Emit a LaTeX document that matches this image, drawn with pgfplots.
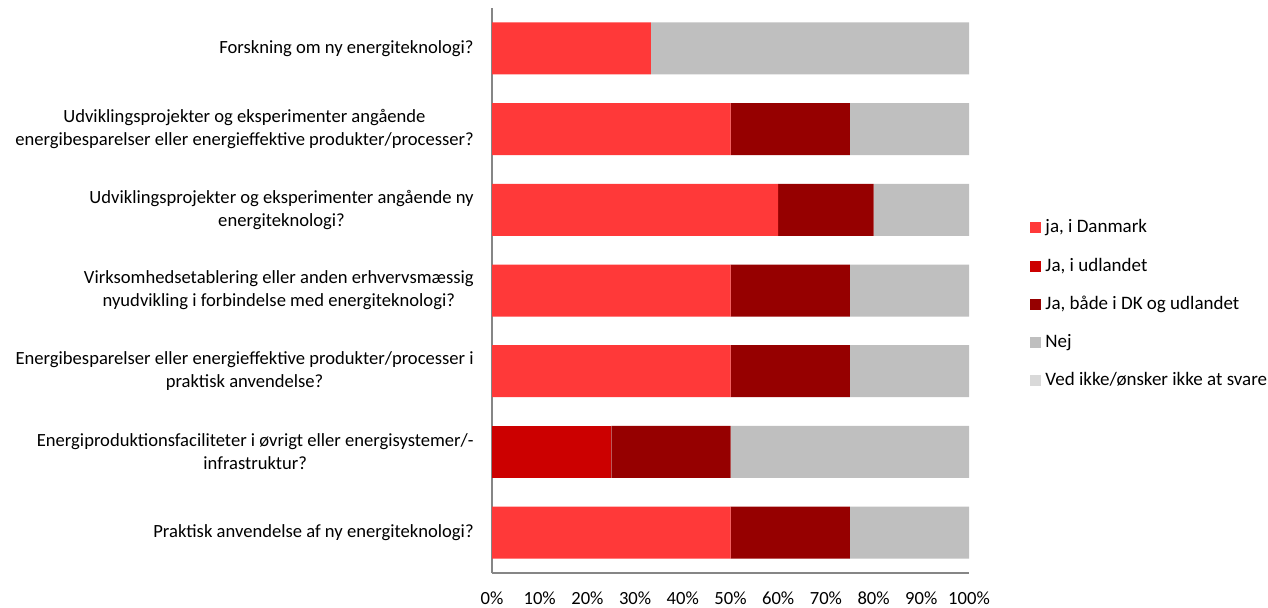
\documentclass[border=0pt]{standalone}
\usepackage{pgfplots}
\pgfplotsset{compat=1.18}
\usepackage{fontspec}
\setmainfont{Carlito}
\definecolor{c1}{HTML}{FF3939}
\definecolor{c2}{HTML}{CC0000}
\definecolor{c3}{HTML}{960000}
\definecolor{c4}{HTML}{BFBFBF}
\definecolor{c5}{HTML}{D9D9D9}
\definecolor{axc}{HTML}{868686}
\begin{document}
\begin{tikzpicture}
\path[use as bounding box] (0,0) rectangle (634pt,303.5pt);
\begin{axis}[
  at={(246pt,17pt)}, anchor=south west,
  scale only axis, width=238.5pt, height=282.5pt,
  xbar stacked, bar width=26pt,
  xmin=0, xmax=100, ymin=-0.5, ymax=6.5,
  axis x line*=bottom, axis y line*=left,
  axis line style={axc, line width=0.8pt, -},
  xtick={0,10,...,100},
  xticklabel={\pgfmathprintnumber{\tick}\%},
  /pgf/number format/assume math mode=true,
  major tick length=0pt,
  ytick={0,...,6},
  yticklabels={
    {Praktisk anvendelse af ny energiteknologi?},
    {Energiproduktionsfaciliteter i øvrigt eller energisystemer/-\\infrastruktur?},
    {Energibesparelser eller energieffektive produkter/processer i\\praktisk anvendelse?},
    {Virksomhedsetablering eller anden erhvervsmæssig\\nyudvikling i forbindelse med energiteknologi?},
    {Udviklingsprojekter og eksperimenter angående ny\\energiteknologi?},
    {Udviklingsprojekter og eksperimenter angående\\energibesparelser eller energieffektive produkter/processer?},
    {Forskning om ny energiteknologi?}},
  yticklabel style={align=center, font=\fontsize{9.3}{11.5}\selectfont, inner sep=0pt, xshift=-9pt},
  xticklabel style={font=\fontsize{9.3}{11}\selectfont, inner sep=0pt, yshift=-9pt},
  legend style={at={(1.128,0.633)}, anchor=north west, draw=none, fill=none,
    font=\fontsize{9.5}{11}\selectfont, row sep=7pt, inner sep=0pt},
  legend cell align=left,
  legend image code/.code={\fill[#1] (0pt,-2.75pt) rectangle (5.5pt,2.75pt);},
  every axis plot/.append style={draw=none},
]
\addplot[fill=c1] coordinates {(50,0) (0,1) (50,2) (50,3) (60,4) (50,5) (33.3,6)};
\addplot[fill=c2] coordinates {(0,0) (25,1) (0,2) (0,3) (0,4) (0,5) (0,6)};
\addplot[fill=c3] coordinates {(25,0) (25,1) (25,2) (25,3) (20,4) (25,5) (0,6)};
\addplot[fill=c4] coordinates {(25,0) (50,1) (25,2) (25,3) (20,4) (25,5) (66.7,6)};
\addplot[fill=c5] coordinates {(0,0) (0,1) (0,2) (0,3) (0,4) (0,5) (0,6)};
\addlegendentry{ja, i Danmark}
\addlegendentry{Ja, i udlandet}
\addlegendentry{Ja, både i DK og udlandet}
\addlegendentry{Nej}
\addlegendentry{Ved ikke/ønsker ikke at svare}
\end{axis}
\end{tikzpicture}
\end{document}
